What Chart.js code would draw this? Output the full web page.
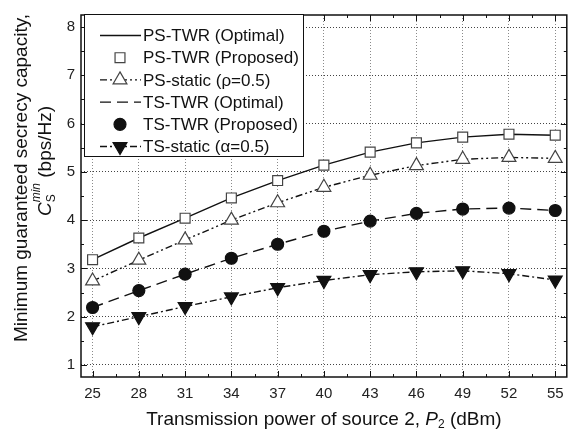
<!DOCTYPE html>
<html>
<head>
<meta charset="utf-8">
<script src="https://cdn.jsdelivr.net/npm/chart.js@4.4.1/dist/chart.umd.min.js"></script>
<style>
  html, body { margin: 0; padding: 0; background: #fff; }
  #wrap { width: 576px; height: 434px; }
</style>
</head>
<body>
<div id="wrap"><canvas id="chart" width="576" height="434"></canvas></div>
<script>
// P2 in dBm
const powers = [25, 28, 31, 34, 37, 40, 43, 46, 49, 52, 55];
const xTicks = [25, 28, 31, 34, 37, 40, 43, 46, 49, 52, 55];
const yTicks = [1, 2, 3, 4, 5, 6, 7, 8];

// minimum guaranteed secrecy capacity, bps/Hz
const psTwrOptimal  = [3.18, 3.63, 4.04, 4.46, 4.82, 5.14, 5.41, 5.60, 5.72, 5.78, 5.76];
const psTwrProposed = [3.18, 3.63, 4.04, 4.46, 4.82, 5.14, 5.41, 5.60, 5.72, 5.78, 5.76];
const psStatic      = [2.74, 3.17, 3.59, 4.00, 4.36, 4.68, 4.93, 5.13, 5.26, 5.30, 5.28];
const tsTwrOptimal  = [2.19, 2.54, 2.88, 3.21, 3.50, 3.77, 3.98, 4.14, 4.23, 4.25, 4.20];
const tsTwrProposed = [2.19, 2.54, 2.88, 3.21, 3.50, 3.77, 3.98, 4.14, 4.23, 4.25, 4.20];
const tsStatic      = [1.79, 2.00, 2.21, 2.41, 2.60, 2.75, 2.87, 2.93, 2.95, 2.89, 2.76];

const seriesNames = [
  'PS-TWR (Optimal)',
  'PS-TWR (Proposed)',
  'PS-static (\u03c1=0.5)',
  'TS-TWR (Optimal)',
  'TS-TWR (Proposed)',
  'TS-static (\u03b1=0.5)',
];

const FONT = '"Liberation Sans", Arial, sans-serif';
const toPoints = (vals) => vals.map((v, i) => ({ x: powers[i], y: v }));

function lineSet(label, vals, dash, order) {
  return {
    label, data: toPoints(vals), order,
    borderColor: '#111', borderWidth: 1.4, borderDash: dash,
    pointRadius: 0, showLine: true, tension: 0,
  };
}

function markerSet(label, vals, style, fill, radius, rotation, order, dash) {
  return {
    label, data: toPoints(vals), order,
    borderColor: '#111', borderWidth: 1.4, borderDash: dash || [],
    showLine: !!dash, tension: 0,
    pointStyle: style, pointRadius: radius, pointRotation: rotation,
    pointBackgroundColor: fill, pointBorderColor: fill === '#fff' ? '#444' : '#111',
    pointBorderWidth: 1.2,
  };
}

const datasets = [
  lineSet(seriesNames[0], psTwrOptimal, [], 2),
  markerSet(seriesNames[1], psTwrProposed, 'rect', '#fff', 7, 0, 0),
  markerSet(seriesNames[2], psStatic, 'triangle', '#fff', 8, 0, 0, [7, 3, 2, 3, 2, 3]),
  lineSet(seriesNames[3], tsTwrOptimal, [11, 6], 2),
  markerSet(seriesNames[4], tsTwrProposed, 'circle', '#111', 6, 0, 0),
  markerSet(seriesNames[5], tsStatic, 'triangle', '#111', 8, 180, 0, [7, 3, 2, 3]),
];

// draws text pieces (italic, sub/superscripts) centred on 0,0;
// pieces sharing a group are stacked and advance by the widest one
function drawRich(ctx, parts) {
  const groups = {};
  const widths = parts.map(p => {
    ctx.font = p.font;
    const w = ctx.measureText(p.text).width;
    if (p.group) {
      groups[p.group] = Math.max(groups[p.group] || 0, w);
      return 0;
    }
    return w;
  });
  const total = widths.reduce((a, b) => a + b, 0) +
    Object.values(groups).reduce((a, b) => a + b, 0);
  let x = -total / 2;
  const seen = {};
  parts.forEach((p, i) => {
    ctx.font = p.font;
    ctx.fillText(p.text, x, p.dy || 0);
    if (p.group) {
      seen[p.group] = (seen[p.group] || 0) + 1;
      const count = parts.filter(q => q.group === p.group).length;
      if (seen[p.group] === count) x += groups[p.group];
    } else {
      x += widths[i];
    }
  });
}

const frameAndTitles = {
  id: 'frameAndTitles',
  afterDatasetsDraw(chart) {
    const { ctx, chartArea: a, scales: { x, y } } = chart;
    ctx.save();
    ctx.strokeStyle = '#111';
    ctx.lineWidth = 1;
    ctx.setLineDash([]);
    // inward tick marks on all four sides
    const tick = (x1, y1, x2, y2) => { ctx.beginPath(); ctx.moveTo(x1, y1); ctx.lineTo(x2, y2); ctx.stroke(); };
    xTicks.forEach((v, i) => {
      const px = Math.round(x.getPixelForValue(v)) + 0.5;
      tick(px, a.bottom, px, a.bottom - 6);
      tick(px, a.top, px, a.top + 6);
      if (i < xTicks.length - 1) {
        const mx = Math.round(x.getPixelForValue(v + 1.5)) + 0.5;
        tick(mx, a.bottom, mx, a.bottom - 3);
        tick(mx, a.top, mx, a.top + 3);
      }
    });
    yTicks.forEach((v, i) => {
      const py = Math.round(y.getPixelForValue(v)) + 0.5;
      tick(a.left, py, a.left + 6, py);
      tick(a.right, py, a.right - 6, py);
      if (i < yTicks.length - 1) {
        const my = Math.round(y.getPixelForValue(v + 0.5)) + 0.5;
        tick(a.left, my, a.left + 3, my);
        tick(a.right, my, a.right - 3, my);
      }
    });
    ctx.lineWidth = 1.5;
    ctx.strokeRect(a.left, a.top, a.right - a.left, a.bottom - a.top);

    // axis titles
    ctx.fillStyle = '#111';
    ctx.textBaseline = 'middle';
    ctx.textAlign = 'left';
    ctx.save();
    ctx.translate((a.left + a.right) / 2, 420);
    drawRich(ctx, [
      { text: 'Transmission power of source 2, ', font: '19px ' + FONT },
      { text: 'P', font: 'italic 19px ' + FONT },
      { text: '2', font: '12px ' + FONT, dy: 5 },
      { text: ' (dBm)', font: '19px ' + FONT },
    ]);
    ctx.restore();

    ctx.save();
    ctx.translate(22, 178);
    ctx.rotate(-Math.PI / 2);
    drawRich(ctx, [{ text: 'Minimum guaranteed secrecy capacity,', font: '19px ' + FONT }]);
    ctx.restore();

    ctx.save();
    ctx.translate(46, 161);
    ctx.rotate(-Math.PI / 2);
    drawRich(ctx, [
      { text: 'C', font: 'italic 19px ' + FONT },
      { text: 'S', font: '12px ' + FONT, dy: 6, group: 'g' },
      { text: 'min', font: 'italic 12px ' + FONT, dy: -9, group: 'g' },
      { text: ' (bps/Hz)', font: '19px ' + FONT },
    ]);
    ctx.restore();
    ctx.restore();
  },
};

// legend box in the upper-left corner of the plot
const boxLegend = {
  id: 'boxLegend',
  afterDraw(chart) {
    const { ctx } = chart;
    const box = { left: 84, top: 14, right: 303, bottom: 156 };
    ctx.save();
    ctx.fillStyle = '#fff';
    ctx.fillRect(box.left, box.top, box.right - box.left, box.bottom - box.top);
    ctx.strokeStyle = '#111';
    ctx.lineWidth = 1;
    ctx.setLineDash([]);
    ctx.strokeRect(box.left + 0.5, box.top + 0.5, box.right - box.left, box.bottom - box.top);

    chart.data.datasets.forEach((ds, i) => {
      const cy = 35.5 + i * 22.2;
      if (ds.showLine !== false && (ds.pointRadius === 0 || ds.borderDash.length)) {
        ctx.strokeStyle = ds.borderColor;
        ctx.lineWidth = ds.borderWidth;
        ctx.setLineDash(ds.borderDash);
        ctx.beginPath();
        ctx.moveTo(100, cy);
        ctx.lineTo(141, cy);
        ctx.stroke();
      }
      if (ds.pointRadius) {
        ctx.setLineDash([]);
        ctx.fillStyle = ds.pointBackgroundColor;
        ctx.strokeStyle = ds.pointBorderColor;
        ctx.lineWidth = ds.pointBorderWidth;
        Chart.helpers.drawPoint(ctx, {
          pointStyle: ds.pointStyle, radius: ds.pointRadius,
          rotation: ds.pointRotation, borderWidth: ds.pointBorderWidth,
        }, 120, cy);
      }
      ctx.fillStyle = '#111';
      ctx.font = '17px ' + FONT;
      ctx.textAlign = 'left';
      ctx.textBaseline = 'middle';
      ctx.fillText(ds.label, 143, cy + 1);
    });
    ctx.restore();
  },
};

new Chart(document.getElementById('chart'), {
  type: 'scatter',
  data: { datasets },
  plugins: [frameAndTitles, boxLegend],
  options: {
    responsive: false,
    animation: false,
    layout: { padding: { top: 11, right: 2, left: 0, bottom: 0 } },
    plugins: { legend: { display: false }, tooltip: { enabled: false } },
    scales: {
      x: {
        type: 'linear', min: 24.25, max: 55.75,
        afterBuildTicks: (s) => { s.ticks = xTicks.map(v => ({ value: v })); },
        afterFit: (s) => { s.height = 57; },
        grid: { color: '#8a8a8a', lineWidth: 1, drawTicks: false },
        border: { display: false, dash: [1, 2] },
        ticks: { color: '#222', padding: 8, font: { family: FONT, size: 15 }, maxRotation: 0 },
      },
      y: {
        type: 'linear', min: 0.75, max: 8.25,
        afterBuildTicks: (s) => { s.ticks = yTicks.map(v => ({ value: v })); },
        afterFit: (s) => { s.width = 81; },
        grid: { color: '#444', lineWidth: 1, drawTicks: false },
        border: { display: false, dash: [1, 2] },
        ticks: { color: '#222', padding: 6, font: { family: FONT, size: 15 } },
      },
    },
  },
});
</script>
</body>
</html>
